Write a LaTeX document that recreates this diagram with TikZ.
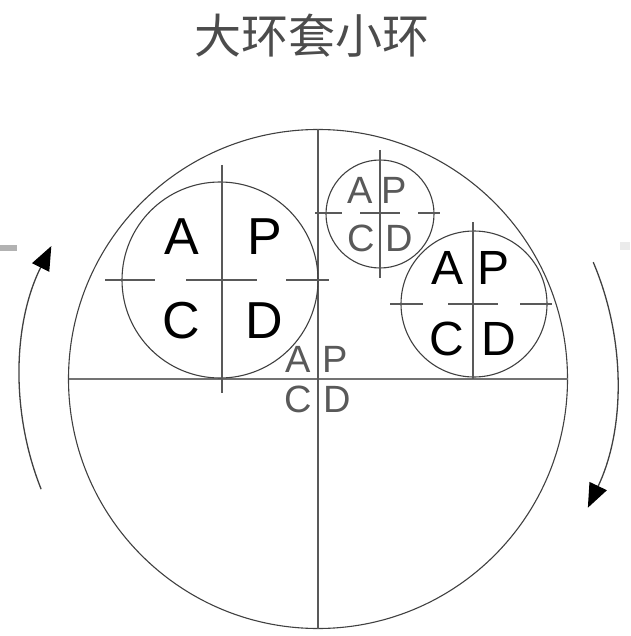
\documentclass[tikz,border=0pt]{standalone}
\usepackage{fontspec}
\setmainfont{Liberation Sans}
\newfontfamily\cjkfont{Noto Sans CJK SC}
\usetikzlibrary{arrows.meta}
\tikzset{
  ring/.style={draw=black!75, line width=1.1pt},
  cross/.style={draw=black!65, line width=1.1pt},
  bigL/.style={inner sep=0pt, font=\fontsize{52}{52}\selectfont, text=black},
  midL/.style={inner sep=0pt, font=\fontsize{48}{48}\selectfont, text=black},
  thinL/.style={inner sep=0pt, font=\fontsize{38}{38}\selectfont, text=black!65},
  turn/.style={draw=black!75, line width=1.3pt, -{Triangle[length=24pt,width=19pt,color=black]}}
}
\begin{document}
\begin{tikzpicture}[x=1pt,y=-1pt]
\useasboundingbox (0,0) rectangle (630,636);
% artifacts at edges
\fill[black!30] (0,245) rectangle (17,251);
\fill[black!8] (620,242) rectangle (630,250);
% title
\node[inner sep=0pt, font=\cjkfont\fontsize{47}{47}\selectfont, text=black!70] (title) at (312,36) {大环套小环};
% big circle and axes
\coordinate (O) at (318,379);
\draw[ring] (O) circle[radius=249.5];
\draw[draw=black!55, line width=2pt] (68.5,379) -- (567.5,379);
\draw[cross] (318,129.5) -- (318,628.5);
% left circle
\coordinate (L) at (220,280);
\draw[ring] (L) circle[radius=98];
\draw[cross] (222,165) -- (222,393);
\draw[cross] (105,280) -- (155,280);
\draw[cross] (186,280) -- (257,280);
\draw[cross] (286,280) -- (329,280);
\node[bigL] (lA) at (182,237) {A};
\node[bigL] (lP) at (265,237) {P};
\node[bigL] (lC) at (181,321) {C};
\node[bigL] (lD) at (264,321) {D};
% top small circle
\coordinate (T) at (380,214);
\draw[ring] (T) circle[radius=54];
\draw[cross] (380,150) -- (380,278);
\draw[cross] (315,213) -- (342,213);
\draw[cross] (360,213) -- (400,213);
\draw[cross] (418,213) -- (440,213);
\node[thinL] (tA) at (360,190) {A};
\node[thinL] (tP) at (394,190) {P};
\node[thinL] (tC) at (361,238) {C};
\node[thinL] (tD) at (399,238) {D};
% right circle
\coordinate (R) at (474,304);
\draw[ring] (R) circle[radius=73];
\draw[cross] (473,222) -- (473,379);
\draw[cross] (390,304) -- (423,304);
\draw[cross] (448,304) -- (498,304);
\draw[cross] (520,304) -- (552,304);
\node[midL] (rA) at (447,268) {A};
\node[midL] (rP) at (493,268) {P};
\node[midL] (rC) at (447,339) {C};
\node[midL] (rD) at (499,339) {D};
% center letters
\node[thinL] (cA) at (298,359) {A};
\node[thinL] (cP) at (335,359) {P};
\node[thinL] (cC) at (298,399) {C};
\node[thinL] (cD) at (337,399) {D};
% rotation arrows
\draw[turn] (O) ++(158.3:298) arc[start angle=158.3, end angle=206.5, radius=298];
\draw[turn] (O) ++(-23:299) arc[start angle=-23, end angle=25.5, radius=299];
\end{tikzpicture}
\end{document}
